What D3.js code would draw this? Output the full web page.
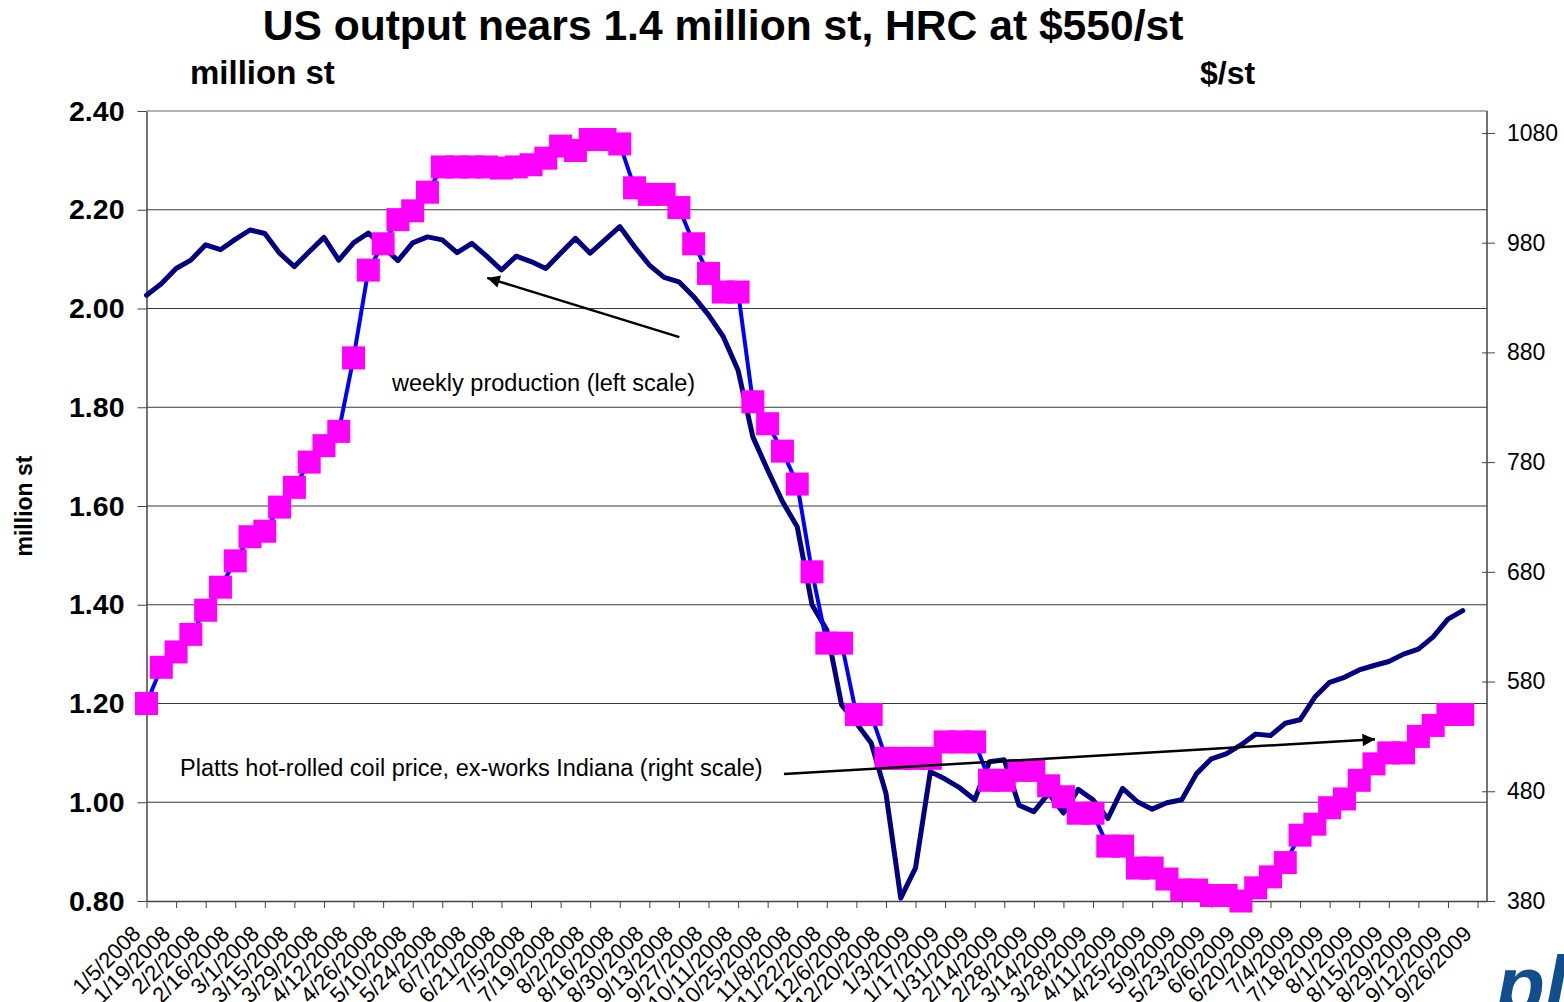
<!DOCTYPE html>
<html>
<head>
	<title>US output nears 1.4 million st</title>
	<script src="https://d3js.org/d3.v7.min.js"></script>
	<style>
		body { margin: 0; background: #fff; }
		svg text { font-family: "Liberation Sans", Arial, sans-serif; }
	</style>
</head>
<body>
<svg id="chart"></svg>
<script>
// tick labels, one every second week (index 0, 2, 4 ...)
var dateLabels = ["1/5/2008","1/19/2008","2/2/2008","2/16/2008","3/1/2008","3/15/2008","3/29/2008",
  "4/12/2008","4/26/2008","5/10/2008","5/24/2008","6/7/2008","6/21/2008","7/5/2008","7/19/2008",
  "8/2/2008","8/16/2008","8/30/2008","9/13/2008","9/27/2008","10/11/2008","10/25/2008","11/8/2008",
  "11/22/2008","12/6/2008","12/20/2008","1/3/2009","1/17/2009","1/31/2009","2/14/2009","2/28/2009",
  "3/14/2009","3/28/2009","4/11/2009","4/25/2009","5/9/2009","5/23/2009","6/6/2009","6/20/2009",
  "7/4/2009","7/18/2009","8/1/2009","8/15/2009","8/29/2009","9/12/2009","9/26/2009"];

// weekly production, million st (left scale)
var production = [2.027,2.050,2.081,2.098,2.129,2.119,2.140,2.159,2.152,2.112,
  2.085,2.115,2.144,2.098,2.133,2.153,2.125,2.097,2.133,2.145,
  2.139,2.113,2.132,2.106,2.078,2.106,2.095,2.081,2.112,2.142,
  2.112,2.139,2.166,2.125,2.088,2.063,2.054,2.024,1.987,1.943,
  1.875,1.740,1.673,1.609,1.558,1.400,1.349,1.197,1.160,1.120,
  1.018,0.806,0.867,1.062,1.047,1.029,1.005,1.082,1.086,0.994,
  0.981,1.018,0.978,1.026,1.005,0.967,1.028,1.001,0.986,0.999,
  1.005,1.058,1.088,1.098,1.116,1.138,1.135,1.160,1.167,1.213,
  1.243,1.253,1.268,1.277,1.285,1.300,1.310,1.335,1.371,1.388];

// Platts HRC price, $/st (right scale)
var hrcPrice = [560,593,607,623,645,666,690,712,717,739,
  757,780,795,808,875,955,979,1001,1009,1026,
  1049,1049,1049,1049,1048,1049,1051,1057,1068,1064,
  1074,1074,1070,1030,1024,1024,1012,979,952,935,
  935,835,815,790,760,680,615,615,550,550,
  510,510,510,510,525,525,525,490,490,499,
  499,485,475,460,460,430,430,410,410,400,
  390,390,385,385,380,392,402,415,440,450,
  465,473,490,505,515,515,530,540,550,550];

var leftTicks = [0.80,1.00,1.20,1.40,1.60,1.80,2.00,2.20,2.40];
var rightTicks = [380,480,580,680,780,880,980,1080];

// annotations: [week index, value]
var prodNote = {text: "weekly production (left scale)", at: [16.6, 1.833], from: [36.03, 1.942], to: [23.04, 2.062]};
var priceNote = {text: "Platts hot-rolled coil price, ex-works Indiana (right scale)", at: [2.27, 494], from: [43.1, 495.7], to: [83.07, 527.4]};

var W = 1564, H = 1002;
var svg = d3.select("#chart").attr("width", W).attr("height", H);

var x = d3.scaleLinear().domain([0, 90.64]).range([146.5, 1487]);
var yL = d3.scaleLinear().domain([0.8, 2.4]).range([901, 111]);
var yR = d3.scaleLinear().domain([380, 1100]).range([901, 111]);

// arrow head
svg.append("defs").append("marker")
    .attr("id", "head")
    .attr("viewBox", "0 0 10 10")
    .attr("refX", 10).attr("refY", 5)
    .attr("markerWidth", 6).attr("markerHeight", 5)
    .attr("markerUnits", "strokeWidth")
    .attr("orient", "auto")
  .append("path")
    .attr("d", "M0,0L10,5L0,10Z")
    .attr("fill", "#000");

// grid lines
svg.append("g").selectAll("line")
    .data(leftTicks.slice(1, -1))
  .enter().append("line")
    .attr("x1", x(0) ).attr("x2", 1487)
    .attr("y1", function(d) { return yL(d); })
    .attr("y2", function(d) { return yL(d); })
    .attr("stroke", "#3a3a3a").attr("stroke-width", 1);

// top border of plot area
svg.append("line")
    .attr("x1", 146.5).attr("x2", 1487)
    .attr("y1", yL(2.4)).attr("y2", yL(2.4))
    .attr("stroke", "#999").attr("stroke-width", 1.5);

// X axis
var xAxis = svg.append("g")
    .attr("transform", "translate(0,901)")
    .call(d3.axisBottom(x)
      .tickValues(d3.range(0, 91, 2))
      .tickFormat(function(d) { return dateLabels[d / 2]; })
      .tickSizeInner(7).tickSizeOuter(0));
xAxis.select(".domain").attr("stroke", "#444").attr("stroke-width", 1.5);
xAxis.selectAll(".tick line").attr("stroke", "#444");
xAxis.selectAll("text")
    .attr("font-size", 22)
    .attr("fill", "#000")
    .attr("text-anchor", "end")
    .attr("y", 0).attr("dy", 0)
    .attr("transform", "translate(-5,34) rotate(-45)");

// left Y axis
var yAxisL = svg.append("g")
    .attr("transform", "translate(146.5,0)")
    .call(d3.axisLeft(yL)
      .tickValues(leftTicks)
      .tickFormat(d3.format(".2f"))
      .tickSizeInner(9).tickSizeOuter(0).tickPadding(13));
yAxisL.select(".domain").attr("stroke", "#444").attr("stroke-width", 1.5);
yAxisL.selectAll(".tick line").attr("stroke", "#444");
yAxisL.selectAll("text")
    .attr("font-size", 28.5).attr("font-weight", "bold").attr("fill", "#000");

// right Y axis
var yAxisR = svg.append("g")
    .attr("transform", "translate(1487,0)")
    .call(d3.axisRight(yR)
      .tickValues(rightTicks)
      .tickFormat(d3.format("d"))
      .tickSizeInner(8).tickSizeOuter(0).tickPadding(12));
yAxisR.select(".domain").attr("stroke", "#444").attr("stroke-width", 1.5)
    .attr("d", "M0," + yR(1100) + "V901");
yAxisR.selectAll(".tick line").attr("stroke", "#444").attr("x1", -5);
yAxisR.selectAll("text")
    .attr("font-size", 23).attr("fill", "#000");

// production line
var prodLine = d3.line()
    .x(function(d, i) { return x(i); })
    .y(function(d) { return yL(d); });

svg.append("path")
    .datum(production)
    .attr("d", prodLine)
    .attr("fill", "none")
    .attr("stroke", "#000080")
    .attr("stroke-width", 5)
    .attr("stroke-linejoin", "round")
    .attr("stroke-linecap", "round");

// price line + square markers
var priceLine = d3.line()
    .x(function(d, i) { return x(i); })
    .y(function(d) { return yR(d); });

svg.append("path")
    .datum(hrcPrice)
    .attr("d", priceLine)
    .attr("fill", "none")
    .attr("stroke", "#0000ff")
    .attr("stroke-width", 4);

var sq = 23;
svg.append("g").selectAll("rect")
    .data(hrcPrice)
  .enter().append("rect")
    .attr("x", function(d, i) { return x(i) - sq / 2; })
    .attr("y", function(d) { return yR(d) - sq / 2; })
    .attr("width", sq).attr("height", sq)
    .attr("fill", "#ff00ff");

// annotations
svg.append("text")
    .attr("x", x(prodNote.at[0])).attr("y", yL(prodNote.at[1]))
    .attr("font-size", 23.5)
    .text(prodNote.text);
svg.append("line")
    .attr("x1", x(prodNote.from[0])).attr("y1", yL(prodNote.from[1]))
    .attr("x2", x(prodNote.to[0])).attr("y2", yL(prodNote.to[1]))
    .attr("stroke", "#000").attr("stroke-width", 2.5)
    .attr("marker-end", "url(#head)");

svg.append("text")
    .attr("x", x(priceNote.at[0])).attr("y", yR(priceNote.at[1]))
    .attr("font-size", 23.5)
    .text(priceNote.text);
svg.append("line")
    .attr("x1", x(priceNote.from[0])).attr("y1", yR(priceNote.from[1]))
    .attr("x2", x(priceNote.to[0])).attr("y2", yR(priceNote.to[1]))
    .attr("stroke", "#000").attr("stroke-width", 2.5)
    .attr("marker-end", "url(#head)");

// titles
svg.append("text")
    .attr("x", 723).attr("y", 40)
    .attr("text-anchor", "middle")
    .attr("font-size", 42.6).attr("font-weight", "bold")
    .text("US output nears 1.4 million st, HRC at $550/st");

svg.append("text")
    .attr("x", 190).attr("y", 84)
    .attr("font-size", 33).attr("font-weight", "bold")
    .text("million st");

svg.append("text")
    .attr("x", 1200).attr("y", 84)
    .attr("font-size", 32).attr("font-weight", "bold")
    .text("$/st");

svg.append("text")
    .attr("transform", "translate(32,506) rotate(-90)")
    .attr("text-anchor", "middle")
    .attr("font-size", 23).attr("font-weight", "bold")
    .text("million st");

// platts logo, cut off at the corner
svg.append("text")
    .attr("x", 1496).attr("y", 1012)
    .attr("font-size", 80).attr("font-weight", "bold").attr("font-style", "italic")
    .attr("fill", "#114f8c")
    .text("pl");
</script>
</body>
</html>
